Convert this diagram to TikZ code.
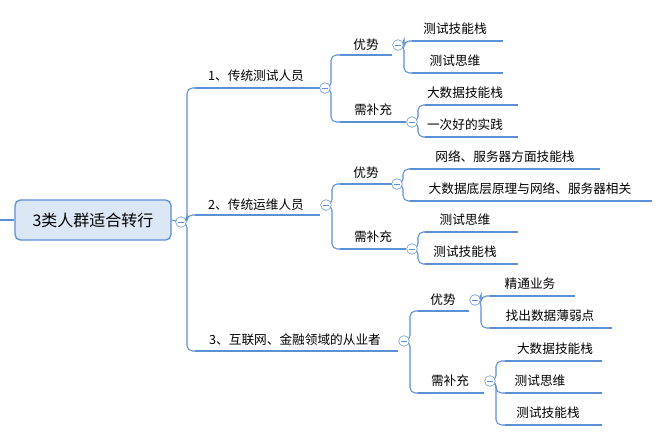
\documentclass[tikz,border=0pt]{standalone}
\usepackage{fontspec}
\newfontfamily\cjk{Noto Sans CJK SC}
\definecolor{ln}{HTML}{5B8FD6}
\definecolor{rootfill}{HTML}{DCE7F5}
\tikzset{
  txt/.style={font=\cjk\fontsize{9.5}{10}\selectfont, inner sep=0pt},
  link/.style={draw=ln, line width=0.8pt, rounded corners=4pt},
  fold/.style={circle, draw=ln, fill=white, minimum size=8pt, inner sep=0pt,
    path picture={\draw[ln, line width=0.6pt] ([xshift=-2pt]path picture bounding box.center) -- ([xshift=2pt]path picture bounding box.center);}},
}
\newcommand{\uline}[4]{% name, x1, x2, y
  \coordinate (#1l) at (#2,#4);
  \coordinate (#1r) at (#3,#4);
  \draw[ln, line width=1pt] (#1l) -- (#1r);}
\begin{document}
\begin{tikzpicture}[x=0.75pt,y=-0.75pt]
  \useasboundingbox (0,0) rectangle (669,444);
  %ROOT
  \node[draw=ln, fill=rootfill, rounded corners=4pt, line width=1pt, minimum width=117pt, minimum height=30pt,
        font=\cjk\fontsize{12}{14}\selectfont] (root) at (93,220) {3类人群适合转行};
  \draw[ln, line width=0.8pt] (0,220) -- (root.west);
  \coordinate (c0) at (181,222);
  \draw[ln, line width=0.8pt] (root.east) -- (c0);
  %LEVEL 1
  \node[txt] (a1) at (256,76) {1、传统测试人员};
  \node[txt] (a2) at (256,205) {2、传统运维人员};
  \node[txt] (a3) at (295,340) {3、互联网、金融领域的从业者};
  \uline{u1}{195}{320}{88}
  \uline{u2}{195}{320}{215}
  \uline{u3}{195}{398}{351}
  \coordinate (c1) at (325,88);
  \coordinate (c2) at (326,205);
  \coordinate (c3) at (404,341);
  \foreach \u in {u1,u2,u3} \draw[link] (c0) -- ++(6,0) |- (\u l);
  %LEVEL 2
  \node[txt] (b11) at (366,45) {优势};
  \node[txt] (b12) at (373,110) {需补充};
  \node[txt] (b21) at (366,173) {优势};
  \node[txt] (b22) at (373,237) {需补充};
  \node[txt] (b31) at (443,300) {优势};
  \node[txt] (b32) at (450,381) {需补充};
  \uline{v11}{340}{392}{55}
  \uline{v12}{340}{406}{122}
  \uline{v21}{340}{392}{184}
  \uline{v22}{340}{406}{249}
  \uline{v31}{418}{469}{311}
  \uline{v32}{418}{484}{393}
  \coordinate (d11) at (398,45);
  \coordinate (d12) at (412,122);
  \coordinate (d21) at (397,184);
  \coordinate (d22) at (412,249);
  \coordinate (d31) at (475,300);
  \coordinate (d32) at (490,381);
  \foreach \v in {11,12} \draw[link] (c1) -- ++(6,0) |- (v\v l);
  \foreach \v in {21,22} \draw[link] (c2) -- ++(6,0) |- (v\v l);
  \foreach \v in {31,32} \draw[link] (c3) -- ++(6,0) |- (v\v l);
  %LEVEL 3
  \node[txt] at (455,29) {测试技能栈};
  \node[txt] at (455,61) {测试思维};
  \node[txt] at (465,93) {大数据技能栈};
  \node[txt] at (465,125) {一次好的实践};
  \node[txt] at (505,157) {网络、服务器方面技能栈};
  \node[txt] at (530,189) {大数据底层原理与网络、服务器相关};
  \node[txt] at (465,220) {测试思维};
  \node[txt] at (465,252) {测试技能栈};
  \node[txt] at (530,284) {精通业务};
  \node[txt] at (550,316) {找出数据薄弱点};
  \node[txt] at (555,349) {大数据技能栈};
  \node[txt] at (540,381) {测试思维};
  \node[txt] at (548,413) {测试技能栈};
  \uline{w1}{412}{503}{41}
  \uline{w2}{412}{503}{73}
  \uline{w3}{425}{518}{105}
  \uline{w4}{425}{518}{137}
  \uline{w5}{410}{600}{169}
  \uline{w6}{410}{652}{201}
  \uline{w7}{425}{518}{232}
  \uline{w8}{425}{518}{264}
  \uline{w9}{490}{575}{296}
  \uline{w10}{490}{612}{328}
  \uline{w11}{505}{602}{361}
  \uline{w12}{505}{602}{393}
  \uline{w13}{505}{602}{425}
  \foreach \w in {1,2} \draw[link] (d11) -- ++(6,0) |- (w\w l);
  \foreach \w in {3,4} \draw[link] (d12) -- ++(6,0) |- (w\w l);
  \foreach \w in {5,6} \draw[link] (d21) -- ++(6,0) |- (w\w l);
  \foreach \w in {7,8} \draw[link] (d22) -- ++(6,0) |- (w\w l);
  \foreach \w in {9,10} \draw[link] (d31) -- ++(6,0) |- (w\w l);
  \foreach \w in {11,12,13} \draw[link] (d32) -- ++(6,0) |- (w\w l);
  %FOLD MARKS
  \foreach \c in {c0,c1,c2,c3,d11,d12,d21,d22,d31,d32} \node[fold] at (\c) {};
\end{tikzpicture}
\end{document}
